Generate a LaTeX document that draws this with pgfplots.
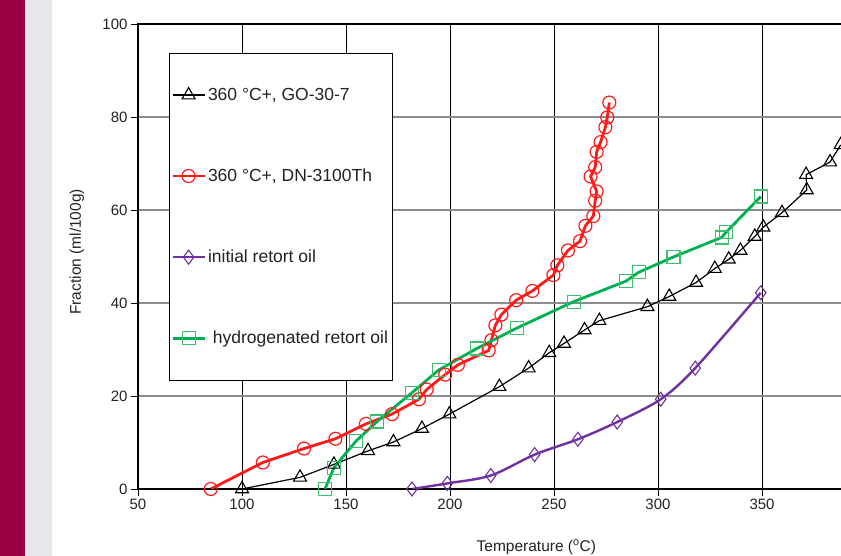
\documentclass[border=0pt]{standalone}
\usepackage{fontspec}
\setmainfont{Liberation Sans}
\usepackage{pgfplots}
\pgfplotsset{compat=1.18}
\definecolor{maroonbar}{HTML}{9C0045}
\definecolor{greybar}{HTML}{E8E7EE}
\definecolor{redline}{HTML}{FF1A1A}
\definecolor{greenline}{HTML}{00B050}
\definecolor{greenmark}{HTML}{3DBF6E}
\definecolor{purpleline}{HTML}{7030A0}
\definecolor{gridgray}{HTML}{8C8C8C}
\definecolor{txt}{HTML}{222222}

\begin{document}
\begin{tikzpicture}
\useasboundingbox (0,0) rectangle (841bp,556bp);
\fill[maroonbar] (0,0) rectangle (25bp,556bp);
\fill[greybar] (25bp,0) rectangle (52bp,556bp);
\begin{axis}[
  at={(138bp,67bp)}, anchor=south west,
  scale only axis, width=705bp, height=465bp,
  xmin=50, xmax=388.94, ymin=0, ymax=100,
  xtick={50,100,...,400}, ytick={0,20,...,100},
  xtick pos=bottom, ytick pos=left,
  tick align=outside, major tick length=7bp,
  tick style={black, line width=0.8bp},
  xmajorgrids, ymajorgrids,
  x grid style={black, line width=0.8bp},
  y grid style={gridgray, line width=1.6bp},
  axis line style={black, line width=1.4bp},
  tick label style={font=\fontsize{15bp}{18bp}\selectfont, text=txt},
  /pgf/number format/assume math mode=true,
  every axis x label/.style={at={(axis description cs:0.565,0)}, anchor=center, yshift=-58bp,
    font=\fontsize{15.5bp}{18bp}\selectfont, text=txt},
  every axis y label/.style={at={(axis description cs:-0.0868,0.51)}, rotate=90, anchor=center,
    font=\fontsize{15.5bp}{18bp}\selectfont, text=txt},
  xlabel={Temperature (\textsuperscript{o}C)},
  ylabel={Fraction (ml/100g)},
  legend cell align=left,
  legend style={at={(axis description cs:0.0437,0.938)}, anchor=north west,
    font=\fontsize{17.5bp}{21bp}\selectfont, text=txt,
    draw=black, line width=0.8bp, fill=white,
    row sep=63bp, inner ysep=33bp, inner xsep=2bp},
  legend image code/.code={\draw[mark repeat=2,mark phase=2,#1] plot coordinates {(0bp,0bp) (16bp,0bp) (32bp,0bp)};},
]
\addplot[black, line width=1.2bp, mark=triangle, mark size=7.5bp,
  mark options={fill=white, draw=black, line width=1.1bp}] coordinates {
  (100,0) (127.9,2.5) (144.2,5.3) (160.6,8.2) (172.8,10.1) (186.5,13.0)
  (199.7,16.1) (223.7,22.0) (237.8,26.0) (247.7,29.3) (254.8,31.3)
  (264.7,34.2) (271.8,36.2) (294.9,39.2) (305.4,41.4) (318.3,44.4)
  (327.3,47.4) (334.0,49.4) (339.6,51.3) (346.5,54.3) (350.6,56.3)
  (359.6,59.4) (371.5,64.3) (371.2,67.6) (382.7,70.3) (387.8,74.0)};
\addlegendentry{360 °C+, GO-30-7}
\addplot[redline, line width=2.8bp, mark=o, mark size=6.5bp,
  mark options={fill=white, draw=redline, line width=1.2bp}] coordinates {
  (85,0) (110,5.7) (129.8,8.7) (144.9,10.8) (159.6,14.0) (172.1,16.1)
  (185.1,19.3) (188.8,21.4) (197.7,24.6) (203.8,26.7) (218.6,29.8)
  (219.9,32.0) (221.8,35.2) (224.7,37.5) (231.8,40.6) (239.6,42.6)
  (249.7,46.0) (251.6,48.1) (256.7,51.3) (262.5,53.3) (265.1,56.6)
  (268.9,58.7) (269.8,62.0) (270.5,64.0) (267.6,67.2) (269.8,69.2)
  (270.5,72.5) (272.4,74.6) (274.7,77.8) (275.6,79.9) (276.6,83.1)};
\addlegendentry{360 °C+, DN-3100Th}
\addplot[purpleline, line width=2.4bp, smooth, mark=diamond, mark size=7bp,
  mark options={fill=white, draw=purpleline, line width=1.1bp}] coordinates {
  (181.7,0) (198.7,1.2) (219.6,2.9) (240.7,7.4) (261.5,10.7)
  (280.4,14.4) (301.3,19.3) (317.9,26.0) (349.4,42.2)};
\addlegendentry{initial retort oil}
\addplot[greenline, line width=2.8bp, mark=square, mark size=6.5bp,
  mark options={fill=white, draw=greenmark, line width=1.2bp}] coordinates {
  (139.9,0) (144.2,4.6) (154.8,10.3) (164.9,14.5) (181.7,20.7)
  (194.6,25.6) (212.8,30.2) (232.1,34.6) (259.5,40.3) (284.6,44.7)
  (290.7,46.6) (307.4,49.9) (330.6,54.1) (332.7,55.2) (349.4,62.9)};
\addlegendentry{\ hydrogenated retort oil}
\end{axis}
\end{tikzpicture}
\end{document}
